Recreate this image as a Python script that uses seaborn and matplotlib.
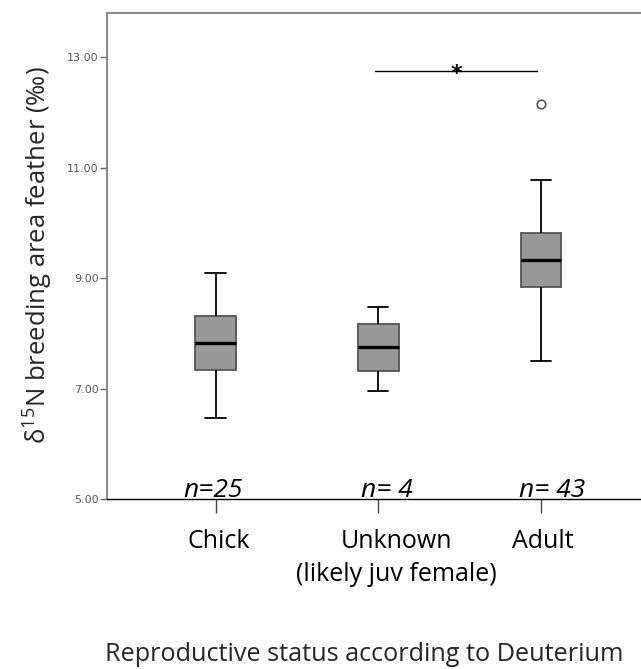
import matplotlib
matplotlib.use("Agg")
import matplotlib.pyplot as plt
import matplotlib.transforms as mtransforms
import numpy as np
import pandas as pd
import seaborn as sns

# ---- data (five-number summaries) ----
categories = ["Chick", "Unknown", "Adult"]
tick_labels = ["Chick", "Unknown\n(likely juv female)", "Adult"]
chick_vals = [6.46, 7.33, 7.82, 8.32, 9.10]
unknown_vals = [6.96, 7.31, 7.75, 8.16, 8.48]
adult_vals = [7.49, 8.83, 9.33, 9.81, 10.78]
outlier_cat = ["Adult"]
outlier_vals = [12.16]
n_labels = ["n=25", "n= 4", "n= 43"]
sig_pair = ["Unknown", "Adult"]
sig_y = 12.75
yticks = [5.0, 7.0, 9.0, 11.0, 13.0]

df = pd.DataFrame({
    "status": [categories[0]] * len(chick_vals) + [categories[1]] * len(unknown_vals)
              + [categories[2]] * len(adult_vals),
    "value": chick_vals + unknown_vals + adult_vals,
})
df["status"] = pd.Categorical(df["status"], categories=categories, ordered=True)
out_df = pd.DataFrame({"status": pd.Categorical(outlier_cat, categories=categories),
                       "value": outlier_vals})

sns.set_theme(style="white")
plt.rcParams["font.family"] = ["Open Sans", "DejaVu Sans"]
plt.rcParams["mathtext.fontset"] = "custom"
plt.rcParams["mathtext.rm"] = "Open Sans"
plt.rcParams["mathtext.it"] = "Open Sans:italic"

W, H = 641, 669
fig = plt.figure(figsize=(W / 100, H / 100), dpi=100)
ax = fig.add_axes([107 / W, 1 - 499 / H, (W - 107) / W, (499 - 13) / H])

sns.boxplot(
    data=df, x="status", y="value", order=categories, ax=ax,
    color="#999999", saturation=1, width=0.25, whis=1.5, showfliers=False,
    linecolor="black", linewidth=1.3,
    boxprops=dict(edgecolor="#555555", linewidth=1.3),
    medianprops=dict(color="black", linewidth=2.4),
    whiskerprops=dict(color="black", linewidth=1.3),
    capprops=dict(color="black", linewidth=1.3),
)
sns.scatterplot(data=out_df, x="status", y="value", ax=ax, marker="o", s=38,
                facecolor="white", edgecolor="#555555", linewidth=1.2, zorder=5,
                legend=False)

ax.set_xlim(-0.667, 2.614)
ax.set_ylim(5.0, 13.8)
ax.set_yticks(yticks)
ax.set_yticklabels([f"{v:.2f}" for v in yticks], fontsize=8, color="#555555",
                   family="DejaVu Sans")
ax.set_xticks(range(len(categories)))
ax.set_xticklabels([""] * len(categories))
ax.set_xlabel("")
ax.set_ylabel("")

ax.tick_params(axis="y", direction="out", length=5, width=1, color="#666666", pad=1, left=True)
ax.tick_params(axis="x", direction="out", length=10, width=1, color="#444444", pad=14, bottom=True)

# category labels (positioned like the reference, slightly offset from ticks)
trans = mtransforms.blended_transform_factory(ax.transData, ax.transAxes)
lab_off = [0.02, 0.11, 0.01]
for i, t in enumerate(tick_labels):
    ax.text(i + lab_off[i], (499 - 529) / 486, t, transform=trans, ha="center",
            va="top", fontsize=18, linespacing=1.4, color="black")

for side in ["top", "left"]:
    ax.spines[side].set_color("#8c8c8c")
    ax.spines[side].set_linewidth(1.5)
ax.spines["bottom"].set_color("black")
ax.spines["bottom"].set_linewidth(1.0)
ax.spines["right"].set_visible(False)

fig.text(364 / W, 1 - 661 / H, "Reproductive status according to Deuterium",
         ha="center", va="baseline", fontsize=18.2)
fig.text(38 / W, 1 - 255 / H, r"δ$^{15}$N breeding area feather (‰)",
         ha="center", va="center", rotation=90, fontsize=18.5)

# n labels
n_x_off = [-0.015, 0.05, 0.07]
for i, t in enumerate(n_labels):
    ax.text(i + n_x_off[i], 5.04, t, ha="center", va="baseline", fontsize=19,
            style="italic", color="black")

# significance bar
x0 = categories.index(sig_pair[0]) - 0.02
x1 = categories.index(sig_pair[1]) - 0.025
ax.plot([x0, x1], [sig_y, sig_y], color="black", linewidth=1.0)
ax.text((x0 + x1) / 2, sig_y - 0.05, "*", ha="center", va="center", fontsize=16,
        fontweight="bold", family="DejaVu Sans", color="black")

fig.savefig("out.png", dpi=100)
